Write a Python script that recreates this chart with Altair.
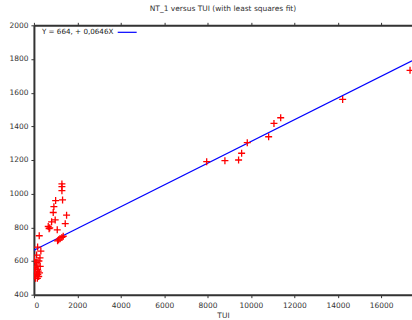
import altair as alt
import pandas as pd

tui = [7960, 8800, 9430, 9570, 9830, 10815, 11060, 11370, 14225, 17330,
       1290, 1290, 1290, 1320, 1000, 920, 1505, 890, 815, 980, 1443, 660, 730, 700,
       1075, 1137, 1200, 1290, 1350, 1090, 245, 170, 320, 125, 20, 280, 85, 290,
       170, 25, 120, 220, 70, 160, 35, 260, 120, 10, 140, 200, 180, 60, 230]
nt1 = [1190, 1196, 1200, 1240, 1303, 1338, 1417, 1451, 1560, 1733,
       1058, 1042, 1018, 963, 959, 923, 872, 888, 833, 844, 822, 805, 797, 792,
       785, 726, 732, 740, 747, 720, 750, 683, 659, 635, 607, 618, 590, 568,
       550, 530, 523, 508, 497, 497, 550, 530, 575, 510, 590, 540, 520, 560, 600]

intercept = 664
slope = 0.0646
x_domain = [0, 17420]
y_domain = [400, 2000]
x_ticks = [0, 2000, 4000, 6000, 8000, 10000, 12000, 14000, 16000]
y_ticks = [400, 600, 800, 1000, 1200, 1400, 1600, 1800, 2000]
legend_label = "Y = 664, + 0,0646X"

pts = pd.DataFrame({"TUI": tui, "NT_1": nt1})
fit = pd.DataFrame({"TUI": x_domain,
                    "NT_1": [intercept + slope * v for v in x_domain]})

FONT = "DejaVu Sans"
AX = "#333333"

xs = alt.Scale(domain=x_domain, nice=False, zero=False)
ys = alt.Scale(domain=y_domain, nice=False, zero=False)

x_axis = alt.Axis(values=x_ticks, title="TUI", grid=False, domainColor=AX,
                  domainWidth=2, tickColor=AX, tickSize=3, labelFont=FONT,
                  labelFontSize=7.5, labelColor=AX, titleFont=FONT,
                  titleFontSize=7.5, titleColor=AX, titleFontWeight="normal",
                  labelPadding=4, titlePadding=2, format="d", labelOverlap=False)
y_axis = alt.Axis(values=y_ticks, title=None, grid=False, domainColor=AX,
                  domainWidth=2, tickColor=AX, tickSize=3, labelFont=FONT,
                  labelFontSize=7.5, labelColor=AX, labelPadding=3, format="d",
                  labelOverlap=False)

plus = "M-1,0H1M0,-1V1"

points = alt.Chart(pts).mark_point(
    shape=plus, size=49, color="#ff0000", strokeWidth=1.3, filled=False,
    opacity=1, clip=True
).encode(
    x=alt.X("TUI:Q", scale=xs, axis=x_axis),
    y=alt.Y("NT_1:Q", scale=ys, axis=y_axis),
)

line = alt.Chart(fit).mark_line(color="#0000ff", strokeWidth=1.2, clip=True).encode(
    x=alt.X("TUI:Q", scale=xs,
            axis=alt.Axis(orient="top", labels=False, title=None, grid=False,
                          values=x_ticks, domainColor=AX, domainWidth=2,
                          tickColor=AX, tickSize=3)),
    y=alt.Y("NT_1:Q", scale=ys, axis=y_axis),
)

leg_text = alt.Chart(pd.DataFrame({"t": [legend_label]})).mark_text(
    align="left", baseline="middle", font=FONT, fontSize=7.2, color="#222222"
).encode(x=alt.value(8), y=alt.value(7), text="t:N")

leg_line = alt.Chart(pd.DataFrame({"t": [legend_label]})).mark_rule(
    color="#0000ff", strokeWidth=1.2
).encode(x=alt.value(84), x2=alt.value(103), y=alt.value(7))

chart = alt.layer(line, points, leg_text, leg_line).resolve_axis(
    x="independent"
).properties(
    width=379, height=270,
    title=alt.TitleParams("NT_1 versus TUI (with least squares fit)", font=FONT,
                          fontSize=7.5, fontWeight="normal", color=AX,
                          offset=9),
    autosize=alt.AutoSizeParams(type="none"),
    padding={"left": 34, "top": 25, "right": 0, "bottom": 25},
).configure_view(stroke=None).configure(background="white")

chart.save("out.html", embed_options={"renderer": "svg", "actions": False})
